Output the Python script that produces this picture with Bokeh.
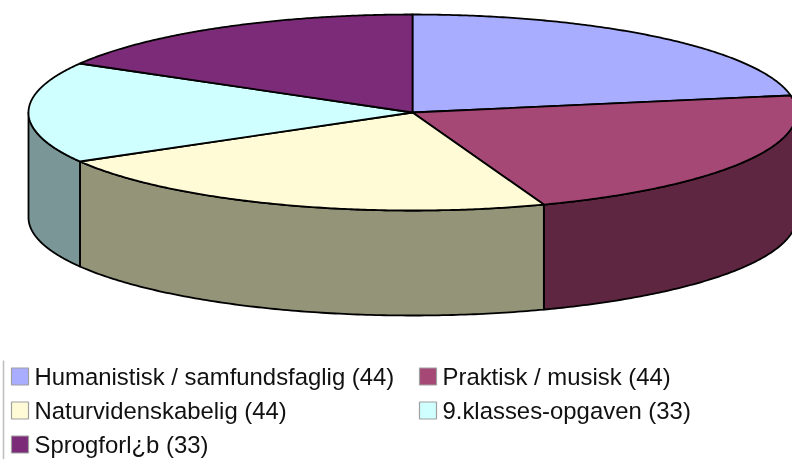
import numpy as np
from bokeh.plotting import figure
from bokeh.embed import file_html
from bokeh.resources import INLINE
from bokeh.core.properties import value

categories = ["Humanistisk / samfundsfaglig", "Praktisk / musisk", "Naturvidenskabelig", "9.klasses-opgaven", "Sprogforl¿b"]
counts = [44, 44, 44, 33, 33]
top_colors = ["#A9ADFF", "#A64876", "#FFFBD6", "#D0FFFF", "#7C2B78"]
wall_colors = ["#55568A", "#5F2641", "#949479", "#7A9697", "#451845"]

# layout of the drawing, in page pixels
W, H = 792, 459
CX, CY, RX, RY, DEPTH = 412.0, 112.0, 384.0, 98.0, 105.0
legend_col_box = [11, 419, 11, 419, 11]
legend_row_y = [376, 376, 410, 410, 444]
BOX = 17
TEXT_GAP = 23


def ellipse(a_deg, dy=0.0):
    a = np.radians(a_deg)
    return CX + RX * np.sin(a), CY - RY * np.cos(a) + dy


p = figure(width=W, height=H, x_range=(0, W), y_range=(H, 0),
           output_backend="svg", toolbar_location=None, min_border=0,
           outline_line_color=None, background_fill_color="white",
           styles={"position": "fixed", "left": "0px", "top": "0px"})
p.axis.visible = False
p.grid.visible = False

total = sum(counts)
edges = np.concatenate([[0.0], np.cumsum(counts)]) * 360.0 / total

# side walls: only the front half of the disc (90..270 degrees) shows
wx, wy, wc = [], [], []
for i in range(len(counts)):
    a0, a1 = max(edges[i], 90.0), min(edges[i + 1], 270.0)
    if a1 <= a0:
        continue
    t = np.linspace(a0, a1, 120)
    xt, yt = ellipse(t)
    xb, yb = ellipse(t[::-1], DEPTH)
    wx.append(np.concatenate([xt, xb]))
    wy.append(np.concatenate([yt, yb]))
    wc.append(wall_colors[i])
p.patches(wx, wy, fill_color=wc, line_color="black", line_width=1.8, line_join="round")

# top faces
tx, ty = [], []
for i in range(len(counts)):
    t = np.linspace(edges[i], edges[i + 1], 160)
    xt, yt = ellipse(t)
    tx.append(np.concatenate([[CX], xt]))
    ty.append(np.concatenate([[CY], yt]))
p.patches(tx, ty, fill_color=top_colors, line_color="black", line_width=1.8, line_join="round")

# legend
p.segment([3], [360], [3], [H], line_color="#BDBDBD", line_width=1.5)
lx = np.array(legend_col_box, dtype=float)
ly = np.array(legend_row_y, dtype=float)
p.quad(left=lx, right=lx + BOX, top=ly - BOX / 2, bottom=ly + BOX / 2,
       fill_color=top_colors, line_color="#A0A0A0", line_width=1.2)
p.text(lx + TEXT_GAP, ly, text=[f"{c} ({n})" for c, n in zip(categories, counts)],
       text_font=value("Liberation Sans"), text_font_size="23.9px", text_color="#111111",
       text_baseline="middle", text_align="left")

open("out.html", "w").write(file_html(p, INLINE))
